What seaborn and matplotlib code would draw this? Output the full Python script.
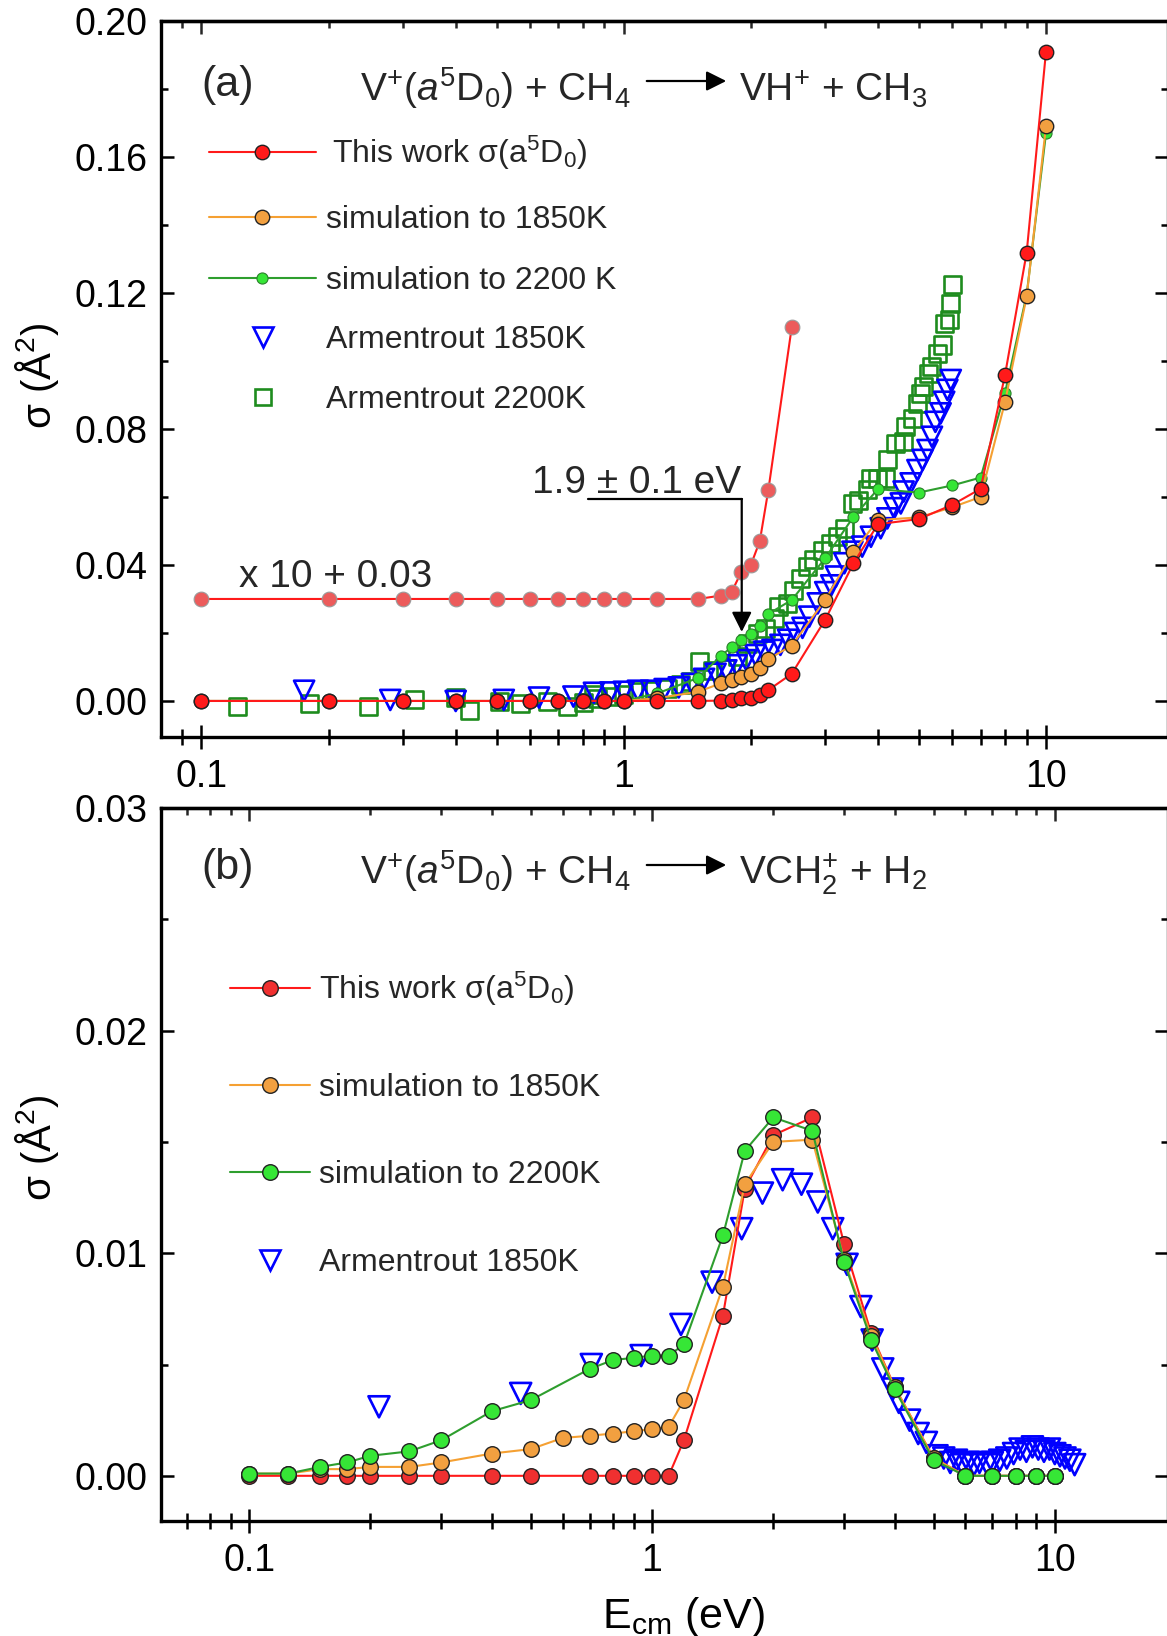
import numpy as np
import matplotlib
matplotlib.use("Agg")
import matplotlib.pyplot as plt
import seaborn as sns
import pandas as pd
from matplotlib.ticker import (FixedLocator, FixedFormatter, LogLocator, NullFormatter,
                               FormatStrFormatter, MultipleLocator)
from matplotlib.lines import Line2D
from matplotlib.patches import FancyArrowPatch

sns.set_theme(style="ticks")
plt.rcParams["font.family"] = ["Liberation Sans", "DejaVu Sans"]
plt.rcParams["mathtext.fontset"] = "custom"
plt.rcParams["mathtext.rm"] = "Liberation Sans"
plt.rcParams["mathtext.it"] = "Liberation Sans:italic"
plt.rcParams["mathtext.bf"] = "Liberation Sans:bold"
plt.rcParams["mathtext.sf"] = "Liberation Sans"
plt.rcParams["mathtext.default"] = "rm"

# ---------------- data: panel (a)  V+ + CH4 -> VH+ + CH3 ----------------
E_sim_a = [0.1, 0.2, 0.3, 0.4, 0.5, 0.6, 0.7, 0.8, 0.9, 1.0, 1.2, 1.5, 1.7, 1.8, 1.9,
           2.0, 2.1, 2.2, 2.5, 3.0, 3.5, 4.0, 5.0, 6.0, 7.0, 8.0, 9.0, 10.0]
this_work_a = [0, 0, 0, 0, 0, 0, 0, 0, 0, 0, 0, 0, 0.0001, 0.0002, 0.0008,
               0.0010, 0.0017, 0.0032, 0.0080, 0.0239, 0.0405, 0.0520, 0.0535, 0.0577,
               0.0624, 0.0960, 0.1319, 0.1910]
sim1850_a = [0, 0, 0, 0, 0, 0, 0, 0, 0, 0, 0.0008, 0.0027, 0.0052, 0.0062, 0.0071,
             0.0079, 0.0096, 0.0123, 0.0163, 0.0297, 0.0439, 0.0532, 0.0540, 0.0570,
             0.0600, 0.0880, 0.1190, 0.1690]
sim2200_a = [0, 0, 0, 0, 0, 0, 0, 0, 0, 0, 0.0022, 0.0068, 0.0133, 0.0158, 0.0179,
             0.0198, 0.0220, 0.0256, 0.0297, 0.0420, 0.0542, 0.0623, 0.0613, 0.0634,
             0.0657, 0.0907, 0.1195, 0.1670]
n_scaled = 19          # the "x 10 + 0.03" curve covers 0.1 - 2.5 eV
scale_factor = 10
scale_offset = 0.03

E_arm1850_a = [0.175, 0.28, 0.40, 0.52, 0.63, 0.76, 0.85, 0.93, 1.0, 1.08, 1.16, 1.25,
               1.35, 1.45, 1.55, 1.65, 1.75, 1.85, 1.95, 2.05, 2.15, 2.25, 2.35, 2.45,
               2.55, 2.65, 2.75, 2.88, 3.0, 3.1, 3.18, 3.33, 3.48, 3.67, 3.85, 4.06,
               4.21, 4.37, 4.53, 4.6, 4.78, 4.96, 5.10, 5.24, 5.37, 5.47, 5.63, 5.74,
               5.84, 5.95]
arm1850_a = [0.0030, 0.0003, 0.0000, 0.0003, 0.0010, 0.0013, 0.0024, 0.0025, 0.0027,
             0.0030, 0.0030, 0.0035, 0.0040, 0.0050, 0.0065, 0.0080, 0.0090, 0.0105,
             0.0120, 0.0135, 0.0145, 0.0150, 0.0165, 0.0180, 0.0200, 0.0215, 0.0248,
             0.0287, 0.0320, 0.0340, 0.0366, 0.0405, 0.0439, 0.0454, 0.0483, 0.0508,
             0.0537, 0.0567, 0.0581, 0.0616, 0.0640, 0.0679, 0.0709, 0.0738, 0.0777,
             0.0821, 0.0846, 0.0880, 0.0915, 0.0944]

E_arm2200_a = [0.122, 0.18, 0.249, 0.32, 0.40, 0.432, 0.507, 0.57, 0.66, 0.736, 0.805,
               0.85, 0.866, 0.93, 1.0, 1.077, 1.16, 1.27, 1.36, 1.44, 1.51, 1.62, 1.74,
               1.86, 1.96, 2.07, 2.17, 2.27, 2.33, 2.44, 2.53, 2.62, 2.72, 2.82, 2.95,
               3.09, 3.20, 3.33, 3.48, 3.60, 3.78, 3.85, 4.0, 4.17, 4.21, 4.4, 4.6,
               4.65, 4.82, 4.96, 5.05, 5.14, 5.28, 5.37, 5.53, 5.68, 5.74, 5.9, 5.95,
               5.99]
arm2200_a = [-0.0017, -0.0007, -0.0017, 0.0003, 0.0009, -0.0029, -0.0002, -0.0007,
             -0.0002, -0.0017, -0.0005, 0.0018, 0.0008, 0.0013, 0.0020, 0.0027, 0.0032,
             0.0037, 0.0047, 0.0057, 0.0116, 0.0091, 0.0096, 0.0130, 0.0170, 0.0199,
             0.0214, 0.0243, 0.0277, 0.0287, 0.0326, 0.0361, 0.0395, 0.0415, 0.0444,
             0.0464, 0.0483, 0.0508, 0.0581, 0.0591, 0.0621, 0.0655, 0.0655, 0.0655,
             0.0709, 0.0758, 0.0763, 0.0807, 0.0831, 0.0876, 0.0905, 0.0924, 0.0964,
             0.0983, 0.1023, 0.1047, 0.1111, 0.1121, 0.1170, 0.1224]

# ---------------- data: panel (b)  V+ + CH4 -> VCH2+ + H2 ----------------
E_this_b = [0.1, 0.125, 0.15, 0.175, 0.2, 0.25, 0.3, 0.4, 0.5, 0.7, 0.8, 0.9, 1.0, 1.1,
            1.2, 1.5, 1.7, 2.0, 2.5, 3.0, 3.5, 4.0, 5.0, 6.0, 7.0, 8.0, 9.0, 10.0]
this_work_b = [0, 0, 0, 0, 0, 0, 0, 0, 0, 0, 0, 0, 0, 0,
               0.0016, 0.0072, 0.0129, 0.0153, 0.0161, 0.0104, 0.0064, 0.0040, 0.0008,
               0, 0, 0, 0, 0]
E_s1850_b = [0.1, 0.125, 0.15, 0.175, 0.2, 0.25, 0.3, 0.4, 0.5, 0.6, 0.7, 0.8, 0.9, 1.0,
             1.1, 1.2, 1.5, 1.7, 2.0, 2.5, 3.0, 3.5, 4.0, 5.0, 6.0, 7.0, 8.0, 9.0, 10.0]
sim1850_b = [0.0001, 0.0001, 0.0003, 0.0003, 0.0004, 0.0004, 0.0006, 0.0010, 0.0012,
             0.0017, 0.0018, 0.0019, 0.0020, 0.0021, 0.0022, 0.0034, 0.0085, 0.0131,
             0.0150, 0.0151, 0.0097, 0.0063, 0.0040, 0.0008, 0, 0, 0, 0, 0]
E_s2200_b = [0.1, 0.125, 0.15, 0.175, 0.2, 0.25, 0.3, 0.4, 0.5, 0.7, 0.8, 0.9, 1.0,
             1.1, 1.2, 1.5, 1.7, 2.0, 2.5, 3.0, 3.5, 4.0, 5.0, 6.0, 7.0, 8.0, 9.0, 10.0]
sim2200_b = [0.0001, 0.0001, 0.0004, 0.0006, 0.0009, 0.0011, 0.0016, 0.0029, 0.0034,
             0.0048, 0.0052, 0.0053, 0.0054, 0.0054, 0.0059, 0.0108, 0.0146, 0.0161,
             0.0155, 0.0096, 0.0061, 0.0039, 0.0007, 0, 0, 0, 0, 0]
E_arm1850_b = [0.21, 0.472, 0.707, 0.94, 1.18, 1.41, 1.67, 1.88, 2.11, 2.35, 2.58, 2.81,
               3.05, 3.30, 3.52, 3.74, 3.96, 4.1, 4.36, 4.58, 4.8, 5.1, 5.3, 5.5, 5.7,
               5.9, 6.1, 6.3, 6.5, 6.8, 7.0, 7.3, 7.6, 7.9, 8.2, 8.5, 8.8, 9.1, 9.4,
               9.7, 10.0, 10.3, 10.6, 10.9, 11.2]
arm1850_b = [0.0031, 0.0037, 0.0050, 0.0054, 0.0068, 0.0087, 0.0111, 0.0127, 0.0133,
             0.0131, 0.0123, 0.0111, 0.0095, 0.0076, 0.0061, 0.0048, 0.0039, 0.0033,
             0.0025, 0.0019, 0.0015, 0.0009, 0.0008, 0.0006, 0.0007, 0.0005, 0.0006,
             0.0005, 0.0006, 0.0005, 0.0006, 0.0007, 0.0008, 0.0010, 0.0012, 0.0011,
             0.0013, 0.0012, 0.0011, 0.0012, 0.0010, 0.0009, 0.0008, 0.0007, 0.0005]

x_tick_vals = [0.1, 1, 10]
x_tick_labels = ["0.1", "1", "10"]

# ---------------- colours ----------------
RED = "#FF1A1A"
RED_LIGHT = "#EC5B5B"
ORANGE_LINE = "#F5A032"
ORANGE_FILL = "#F2A040"
GREEN_LINE = "#2E9E2E"
GREEN_FILL = "#36E636"
BLUE = "#0000FF"
SQ_GREEN = "#1E8C1E"
EDGE = "#222222"

W, H = 1167, 1636
fig = plt.figure(figsize=(W / 100, H / 100), dpi=100)
fig.patch.set_facecolor("white")


def fx(px):
    return px / W


def fy(py):
    return 1 - py / H


axA = fig.add_axes([fx(161), fy(737), fx(1168) - fx(161), fy(21) - fy(737)])
axB = fig.add_axes([fx(161), fy(1521), fx(1168) - fx(161), fy(808) - fy(1521)])


def style_axes(ax, xlim, ylim, ymaj, ymin):
    ax.set_facecolor("white")
    ax.set_xscale("log")
    ax.set_xlim(*xlim)
    ax.set_ylim(*ylim)
    ax.grid(False)
    ax.xaxis.set_major_locator(FixedLocator(x_tick_vals))
    ax.xaxis.set_major_formatter(FixedFormatter(x_tick_labels))
    ax.xaxis.set_minor_locator(LogLocator(base=10, subs=np.arange(2, 10), numticks=30))
    ax.xaxis.set_minor_formatter(NullFormatter())
    ax.yaxis.set_major_locator(MultipleLocator(ymaj))
    ax.yaxis.set_minor_locator(MultipleLocator(ymin))
    ax.yaxis.set_major_formatter(FormatStrFormatter("%.2f"))
    for s in ax.spines.values():
        s.set_visible(True)
        s.set_linewidth(2.4)
        s.set_color("black")
    ax.tick_params(axis="x", which="major", direction="inout", length=17, width=1.8,
                   labelsize=27, pad=7, bottom=True, top=False, colors="black")
    ax.tick_params(axis="x", which="minor", direction="inout", length=11, width=1.8,
                   bottom=True, top=False, colors="black")
    ax.tick_params(axis="y", which="major", direction="in", length=9.5, width=1.8,
                   labelsize=27, pad=10, left=True, right=True, colors="black")
    ax.tick_params(axis="y", which="minor", direction="in", length=5, width=1.8,
                   left=True, right=True, colors="black")
    sec = ax.secondary_xaxis("top")
    sec.tick_params(axis="x", which="major", direction="in", length=9.5, width=1.8,
                    labeltop=False, labelbottom=False)
    sec.tick_params(axis="x", which="minor", direction="in", length=5, width=1.8,
                    labeltop=False)
    sec.spines["top"].set_linewidth(2.4)


def sim_line(ax, E, y, lc, fc, ec, ms, z, mew=1.0, lw=1.5):
    sns.lineplot(x=E, y=y, ax=ax, color=lc, marker="o", markersize=ms,
                 markerfacecolor=fc, markeredgecolor=ec, markeredgewidth=mew,
                 linewidth=lw, sort=False, estimator=None, zorder=z, legend=False)


def open_markers(ax, E, y, marker, s, color, z, lw=1.6):
    sns.scatterplot(x=E, y=y, ax=ax, marker=marker, s=s, facecolor="none",
                    edgecolor=color, linewidth=lw, zorder=z, legend=False)


MS_A = 10.4
MS_G = 8.0

# ---------------- panel (a) ----------------
style_axes(axA, (0.0802, 19.45), (-0.0106, 0.20), 0.04, 0.02)
open_markers(axA, E_arm2200_a, arm2200_a, "s", 150, SQ_GREEN, 3, lw=1.9)
open_markers(axA, E_arm1850_a, arm1850_a, "v", 210, BLUE, 3.5, lw=1.9)
sim_line(axA, E_sim_a, sim2200_a, GREEN_LINE, GREEN_FILL, "#2B7F2B", MS_G, 4, mew=0.8)
sim_line(axA, E_sim_a, sim1850_a, ORANGE_LINE, ORANGE_FILL, EDGE, MS_A, 5)
sim_line(axA, E_sim_a, this_work_a, RED, RED, EDGE, MS_A, 6)
scaled_E = E_sim_a[:n_scaled]
scaled_y = [scale_factor * v + scale_offset for v in this_work_a[:n_scaled]]
sim_line(axA, scaled_E, scaled_y, RED, RED_LIGHT, "#9A9A9A", 10.6, 6.5, mew=0.8)

axA.text(0.1225, 0.0335, "x 10 + 0.03", fontsize=28, ha="left", va="baseline", zorder=8)
axA.text(1.073, 0.0612, "1.9 ± 0.1 eV", fontsize=28, ha="center", va="baseline", zorder=8)
axA.plot([0.822, 1.903], [0.0594, 0.0594], color="black", lw=1.6, zorder=8)
axA.annotate("", xy=(1.903, 0.0203), xytext=(1.903, 0.0594),
             arrowprops=dict(arrowstyle="-|>", color="black", lw=1.6, mutation_scale=30,
                             shrinkA=0, shrinkB=0), zorder=8)
axA.set_ylabel("σ (Å$^{2}$)", fontsize=29, color="black")
axA.yaxis.set_label_coords(-0.099, 0.504)

# ---------------- panel (b) ----------------
style_axes(axB, (0.0604, 19.1), (-0.00203, 0.030), 0.01, 0.005)
open_markers(axB, E_arm1850_b, arm1850_b, "v", 230, BLUE, 3, lw=1.9)
sim_line(axB, E_this_b, this_work_b, RED, "#F03030", EDGE, 11.2, 4)
sim_line(axB, E_s1850_b, sim1850_b, ORANGE_LINE, ORANGE_FILL, EDGE, 11.2, 5)
sim_line(axB, E_s2200_b, sim2200_b, GREEN_LINE, GREEN_FILL, EDGE, 11.2, 6)
axB.set_ylabel("σ (Å$^{2}$)", fontsize=29, color="black")
axB.yaxis.set_label_coords(-0.099, 0.523)
axB.set_xlabel(r"E$_{\mathrm{cm}}$ (eV)", fontsize=31, color="black")
axB.xaxis.set_label_coords(0.519, -0.104)

# ---------------- titles ----------------
def reaction(y_base, y_arrow, right_text, tag_base, tag):
    fig.text(fx(201), fy(tag_base), tag, fontsize=31, ha="left", va="baseline")
    fig.text(fx(360), fy(y_base), r"V$^{+}$($\mathit{a}^{5}$D$_{0}$) + CH$_{4}$",
             fontsize=28, ha="left", va="baseline")
    fig.add_artist(FancyArrowPatch((fx(644), fy(y_arrow)), (fx(729), fy(y_arrow)),
                                   transform=fig.transFigure, arrowstyle="-|>",
                                   mutation_scale=30, lw=1.6, color="black"))
    fig.text(fx(739), fy(y_base), right_text, fontsize=28, ha="left", va="baseline")


reaction(101, 81, r"VH$^{+}$ + CH$_{3}$", 96, "(a)")
reaction(884, 865, r"VCH$_{2}^{+}$ + H$_{2}$", 879, "(b)")

# ---------------- legends (drawn as keys) ----------------
LEG_FS = 23


def key(y, x0, x1, xm, xt, label, lc=None, lw=1.5, **mk):
    if lc is not None:
        fig.add_artist(Line2D([fx(x0), fx(x1)], [fy(y), fy(y)], color=lc, lw=lw,
                              transform=fig.transFigure))
    fig.add_artist(Line2D([fx(xm)], [fy(y)], linestyle="none",
                          transform=fig.transFigure, **mk))
    fig.text(fx(xt), fy(y + 0.358 * LEG_FS / 0.72), label, fontsize=LEG_FS,
             ha="left", va="baseline")


lab_this = r"This work σ(a$^{5}$D$_{0}$)"
# panel a
key(152, 209, 316, 262, 332, lab_this, RED, marker="o", markersize=MS_A,
    markerfacecolor=RED, markeredgecolor=EDGE, markeredgewidth=1.0)
key(217, 209, 316, 262, 326, "simulation to 1850K", ORANGE_LINE, marker="o",
    markersize=MS_A, markerfacecolor=ORANGE_FILL, markeredgecolor=EDGE, markeredgewidth=1.0)
key(278, 209, 316, 262, 326, "simulation to 2200 K", GREEN_LINE, marker="o",
    markersize=MS_G, markerfacecolor=GREEN_FILL, markeredgecolor="#2B7F2B", markeredgewidth=0.8)
key(337, 0, 0, 263, 326, "Armentrout 1850K", None, marker="v", markersize=14.5,
    markerfacecolor="none", markeredgecolor=BLUE, markeredgewidth=1.9)
key(397, 0, 0, 263, 326, "Armentrout 2200K", None, marker="s", markersize=12,
    markerfacecolor="none", markeredgecolor=SQ_GREEN, markeredgewidth=1.9)
# panel b
key(988, 230, 310, 270, 319, lab_this, RED, marker="o", markersize=11.2,
    markerfacecolor="#F03030", markeredgecolor=EDGE, markeredgewidth=1.0)
key(1085, 230, 310, 270, 319, "simulation to 1850K", ORANGE_LINE, marker="o",
    markersize=11.2, markerfacecolor=ORANGE_FILL, markeredgecolor=EDGE, markeredgewidth=1.0)
key(1172, 230, 310, 270, 319, "simulation to 2200K", GREEN_LINE, marker="o",
    markersize=11.2, markerfacecolor=GREEN_FILL, markeredgecolor=EDGE, markeredgewidth=1.0)
key(1260, 0, 0, 270, 319, "Armentrout 1850K", None, marker="v", markersize=15,
    markerfacecolor="none", markeredgecolor=BLUE, markeredgewidth=1.9)

fig.savefig("out.png", dpi=100, facecolor="white")
